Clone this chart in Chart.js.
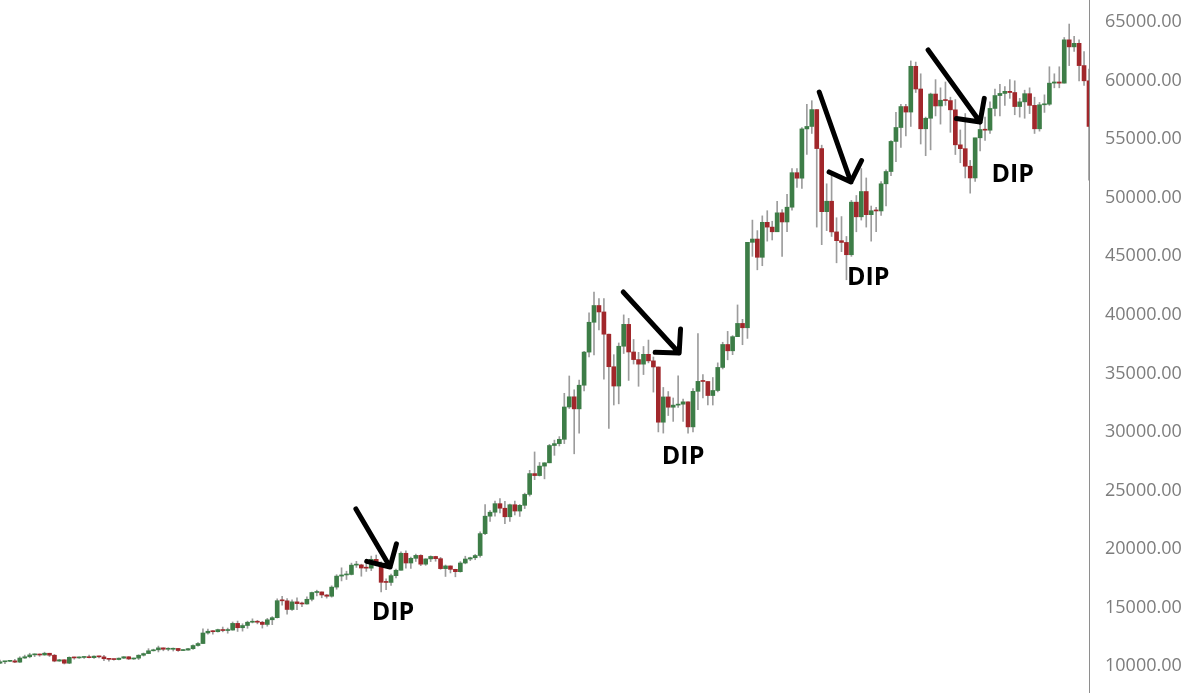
<!DOCTYPE html>
<html>
<head>
<meta charset="utf-8">
<script src="https://cdn.jsdelivr.net/npm/chart.js"></script>
<style>
  body { margin: 0; background: #fff; }
  canvas { display: block; }
</style>
</head>
<body>
<canvas id="chart" width="1200" height="693"></canvas>
<script>
// daily candles, 10 Sep 2020 -> 18 Apr 2021
const dates = [
  '2020-09-10','2020-09-11','2020-09-12','2020-09-13','2020-09-14','2020-09-15','2020-09-16','2020-09-17','2020-09-18','2020-09-19','2020-09-20',
  '2020-09-21','2020-09-22','2020-09-23','2020-09-24','2020-09-25','2020-09-26','2020-09-27','2020-09-28','2020-09-29','2020-09-30',
  '2020-10-01','2020-10-02','2020-10-03','2020-10-04','2020-10-05','2020-10-06','2020-10-07','2020-10-08','2020-10-09','2020-10-10',
  '2020-10-11','2020-10-12','2020-10-13','2020-10-14','2020-10-15','2020-10-16','2020-10-17','2020-10-18','2020-10-19','2020-10-20',
  '2020-10-21','2020-10-22','2020-10-23','2020-10-24','2020-10-25','2020-10-26','2020-10-27','2020-10-28','2020-10-29','2020-10-30','2020-10-31',
  '2020-11-01','2020-11-02','2020-11-03','2020-11-04','2020-11-05','2020-11-06','2020-11-07','2020-11-08','2020-11-09','2020-11-10',
  '2020-11-11','2020-11-12','2020-11-13','2020-11-14','2020-11-15','2020-11-16','2020-11-17','2020-11-18','2020-11-19','2020-11-20',
  '2020-11-21','2020-11-22','2020-11-23','2020-11-24','2020-11-25','2020-11-26','2020-11-27','2020-11-28','2020-11-29','2020-11-30',
  '2020-12-01','2020-12-02','2020-12-03','2020-12-04','2020-12-05','2020-12-06','2020-12-07','2020-12-08','2020-12-09','2020-12-10',
  '2020-12-11','2020-12-12','2020-12-13','2020-12-14','2020-12-15','2020-12-16','2020-12-17','2020-12-18','2020-12-19','2020-12-20',
  '2020-12-21','2020-12-22','2020-12-23','2020-12-24','2020-12-25','2020-12-26','2020-12-27','2020-12-28','2020-12-29','2020-12-30','2020-12-31',
  '2021-01-01','2021-01-02','2021-01-03','2021-01-04','2021-01-05','2021-01-06','2021-01-07','2021-01-08','2021-01-09','2021-01-10',
  '2021-01-11','2021-01-12','2021-01-13','2021-01-14','2021-01-15','2021-01-16','2021-01-17','2021-01-18','2021-01-19','2021-01-20',
  '2021-01-21','2021-01-22','2021-01-23','2021-01-24','2021-01-25','2021-01-26','2021-01-27','2021-01-28','2021-01-29','2021-01-30','2021-01-31',
  '2021-02-01','2021-02-02','2021-02-03','2021-02-04','2021-02-05','2021-02-06','2021-02-07','2021-02-08','2021-02-09','2021-02-10',
  '2021-02-11','2021-02-12','2021-02-13','2021-02-14','2021-02-15','2021-02-16','2021-02-17','2021-02-18','2021-02-19','2021-02-20',
  '2021-02-21','2021-02-22','2021-02-23','2021-02-24','2021-02-25','2021-02-26','2021-02-27','2021-02-28',
  '2021-03-01','2021-03-02','2021-03-03','2021-03-04','2021-03-05','2021-03-06','2021-03-07','2021-03-08','2021-03-09','2021-03-10',
  '2021-03-11','2021-03-12','2021-03-13','2021-03-14','2021-03-15','2021-03-16','2021-03-17','2021-03-18','2021-03-19','2021-03-20',
  '2021-03-21','2021-03-22','2021-03-23','2021-03-24','2021-03-25','2021-03-26','2021-03-27','2021-03-28','2021-03-29','2021-03-30','2021-03-31',
  '2021-04-01','2021-04-02','2021-04-03','2021-04-04','2021-04-05','2021-04-06','2021-04-07','2021-04-08','2021-04-09','2021-04-10',
  '2021-04-11','2021-04-12','2021-04-13','2021-04-14','2021-04-15','2021-04-16','2021-04-17','2021-04-18'
];

const open = [
  10240,10360,10400,10440,10330,10680,10790,10950,10950,10940,11090,10920,10420,10530,10240,10740,10690,10730,10770,10710,10840,
  10780,10620,10570,10550,10670,10790,10600,10670,10920,11060,11300,11380,11550,11430,11430,11500,11320,11360,11480,11750,11920,12820,12970,12930,13110,13030,13070,13640,13270,13460,13740,
  13780,13740,13550,13950,14130,15580,15570,14830,15480,15330,15300,15700,16280,16330,16070,15960,16740,17680,17780,17820,18620,18640,18370,18360,19110,18730,17150,17140,17720,18180,
  19630,18800,19200,19450,18700,19150,19360,19170,18320,18550,18260,18060,18800,19140,19250,19440,21310,22800,23140,23870,23480,22750,23780,23240,23730,24660,26440,26270,27080,27360,28840,
  29000,29370,32130,33000,31970,33990,36820,39370,40800,40250,38350,35570,33920,37320,39190,36830,36180,35790,36630,36070,35550,30830,32990,32110,32290,32370,32570,30430,33470,34320,34310,
  33110,33540,35510,37470,36930,38140,39270,38900,46200,46480,44920,47910,47500,47100,48720,47940,49200,52150,51680,55890,56100,57540,54210,48820,49710,47090,46340,46190,
  45140,49630,48380,50540,48560,48900,48880,51200,52250,54820,56010,57800,57330,61240,59300,55900,56800,58870,57850,58340,58310,57520,54530,54200,52700,51700,55130,55840,55780,57640,58740,
  58920,59100,59000,57800,58200,58900,57900,55900,57950,58000,59800,59900,59800,63500,62900,63200,61300,60000
];

const high = [
  10500,10400,10480,10580,10790,10930,11090,11040,11030,11180,11090,10990,10560,10540,10780,10760,10780,10800,10940,10860,10840,
  10920,10660,10600,10690,10800,10800,10680,10960,11110,11480,11440,11700,11550,11560,11540,11500,11400,11500,11800,12000,13180,13160,13020,13150,13330,13240,13760,13840,13610,13830,14030,
  13900,13820,14070,14220,15740,15960,15770,15650,15830,15460,15900,16320,16480,16330,16110,16850,17800,18390,18100,18790,18940,18700,18760,19390,19480,18900,17450,17850,18280,19750,
  19850,19300,19560,19510,19160,19410,19380,19280,18630,18560,18270,18920,19380,19300,19530,21460,23800,23270,24100,24300,24060,23840,24090,23800,24770,26720,28290,27390,27370,28940,29300,
  29600,33300,34780,33600,34440,36880,40180,41950,41400,41400,38350,36600,37600,40000,39700,37900,36800,37300,37850,36400,35550,33800,33450,32900,34800,32800,32570,33700,38400,34900,34310,
  34650,35900,37660,38590,38230,40850,39620,46200,48100,47200,48460,48900,48000,49700,49000,50300,52500,52500,56000,58000,58300,57540,54500,51200,52000,48300,48400,46700,
  49780,50200,52500,51700,49300,49200,51400,52400,54900,57300,58000,58000,61700,61600,60600,56900,58950,60100,59400,59900,58600,58400,55800,57200,53200,55100,56600,56900,58200,59300,59700,
  59500,60100,60000,58500,59200,59400,58600,58150,58800,61200,60600,61200,63700,64850,63800,63500,62500,61000
];

const low = [
  10200,10200,10360,10280,10300,10650,10700,10800,10830,10920,10810,10360,10400,10170,10200,10580,10650,10640,10680,10650,10700,
  10450,10420,10500,10520,10640,10550,10560,10550,10850,11050,11280,11200,11300,11300,11280,11250,11310,11350,11420,11700,11900,12730,12720,12900,12920,12800,13060,12950,12980,13220,13680,
  13600,13240,13400,13530,14100,15190,14420,14740,14820,15070,15290,15570,15990,15830,15800,15880,16560,17270,17390,17780,18420,17670,18080,18150,18560,16330,16520,16880,17530,18180,
  18350,18340,18930,18570,18600,18920,18950,18260,17650,17950,17620,18020,18730,19000,19080,19300,21230,22350,22800,23080,22160,22350,22900,22780,23450,24520,25920,26230,25990,27360,28000,
  28800,29000,32000,28130,29900,33510,36400,36570,38720,34500,30300,32300,32400,36700,34400,35800,33900,34900,35900,33400,30000,29900,31400,30900,32100,30900,29900,30000,31900,32900,32300,
  32300,33420,35380,36160,36600,38140,37450,37990,45000,43850,44200,46300,46400,47100,45000,47100,48950,50900,50800,53700,55500,47500,46000,47200,46700,44450,45400,43000,
  45000,47100,48100,47500,46300,47100,48500,49300,51900,53100,54300,55300,56100,59000,54600,53600,54100,57000,56300,57900,55600,53700,53000,51700,50400,51400,54000,54900,55500,57000,57000,
  57900,58500,57100,56900,56800,57200,55500,55700,57300,57900,59400,59400,59800,61300,62500,60000,59600,51500
];

const close = [
  10360,10400,10440,10330,10680,10790,10950,10950,10940,11090,10920,10420,10530,10240,10740,10690,10730,10770,10710,10840,10780,
  10620,10570,10550,10670,10790,10600,10670,10920,11060,11300,11380,11550,11430,11430,11500,11320,11360,11480,11750,11920,12820,12970,12930,13110,13030,13070,13640,13270,13460,13740,13780,
  13740,13550,13950,14130,15580,15570,14830,15480,15330,15300,15700,16280,16330,16070,15960,16740,17680,17780,17820,18620,18640,18370,18360,19110,18730,17150,17140,17720,18180,19630,
  18800,19200,19450,18700,19150,19360,19170,18320,18550,18260,18060,18800,19140,19250,19440,21310,22800,23140,23870,23480,22750,23780,23240,23730,24660,26440,26270,27080,27360,28840,29000,
  29370,32130,33000,31970,33990,36820,39370,40800,40250,38350,35570,33920,37320,39190,36830,36180,35790,36630,36070,35550,30830,32990,32110,32290,32370,32570,30430,33470,34320,34310,33110,
  33540,35510,37470,36930,38140,39270,38900,46200,46480,44920,47910,47500,47100,48720,47940,49200,52150,51680,55890,56100,57540,54210,48820,49710,47090,46340,46190,45140,
  49630,48380,50540,48560,48900,48880,51200,52250,54820,56010,57800,57330,61240,59300,55900,56800,58870,57850,58340,58310,57520,54530,54200,52700,51700,55130,55840,55780,57640,58740,58920,
  59100,59000,57800,58200,58900,57900,55900,57950,58000,59800,59900,59800,63500,62900,63200,61300,60000,56100
];

const yTicks = [10000, 15000, 20000, 25000, 30000, 35000, 40000, 45000, 50000, 55000, 60000, 65000];

// hand-drawn annotations, placed in data space: [candle index, price]
const arrows = [
  { from: [71.9, 23415], to: [78.8, 18460] },
  { from: [125.9, 41956], to: [137.2, 36744] },
  { from: [165.5, 59044], to: [171.9, 51354] },
  { from: [187.5, 62632], to: [198.0, 56480] }
];
const dipLabels = [[79.4, 14700], [138.0, 28029], [175.4, 43323], [204.6, 52123]];

const UP = '#3d7d47';
const DOWN = '#a1272b';

const bodyColors = open.map((o, i) => close[i] >= o ? UP : DOWN);

const dipPlugin = {
  id: 'dips',
  afterDatasetsDraw(chart) {
    const { ctx, scales: { x, y } } = chart;
    ctx.save();
    ctx.strokeStyle = '#000';
    ctx.lineWidth = 5;
    ctx.lineCap = 'round';
    ctx.lineJoin = 'round';
    arrows.forEach(a => {
      const x0 = x.getPixelForValue(a.from[0]), y0 = y.getPixelForValue(a.from[1]);
      const x1 = x.getPixelForValue(a.to[0]), y1 = y.getPixelForValue(a.to[1]);
      const back = Math.atan2(y0 - y1, x0 - x1);
      ctx.beginPath();
      ctx.moveTo(x0, y0);
      ctx.lineTo(x1, y1);
      [-0.8, 0.8].forEach(d => {
        ctx.moveTo(x1 + 24 * Math.cos(back + d), y1 + 24 * Math.sin(back + d));
        ctx.lineTo(x1, y1);
      });
      ctx.stroke();
    });
    ctx.fillStyle = '#000';
    ctx.font = 'bold 25px "Open Sans"';
    ctx.textAlign = 'center';
    ctx.textBaseline = 'alphabetic';
    dipLabels.forEach(p => {
      ctx.fillText('DIP', x.getPixelForValue(p[0]), y.getPixelForValue(p[1]) + 9);
    });
    ctx.restore();
  }
};

new Chart(document.getElementById('chart'), {
  type: 'bar',
  data: {
    labels: dates,
    datasets: [
      {
        label: 'body',
        data: dates.map((d, i) => [open[i], close[i]]),
        backgroundColor: bodyColors,
        barThickness: 4,
        minBarLength: 1,
        grouped: false,
        order: 0
      },
      {
        label: 'wick',
        data: dates.map((d, i) => [low[i], high[i]]),
        backgroundColor: '#9c9c9c',
        barThickness: 1,
        grouped: false,
        order: 1
      }
    ]
  },
  options: {
    responsive: false,
    animation: false,
    layout: { padding: 0 },
    plugins: {
      legend: { display: false },
      tooltip: { enabled: false }
    },
    scales: {
      x: { display: false, offset: false },
      y: {
        position: 'right',
        min: 7693,
        max: 66904,
        afterBuildTicks: s => { s.ticks = yTicks.map(v => ({ value: v })); },
        afterFit: s => { s.paddingTop = 0; s.paddingBottom = 0; s.width = 111; },
        grid: { display: false },
        border: { display: true, color: '#8e8e8e', width: 1 },
        ticks: {
          padding: 8,
          color: '#7d7d7d',
          font: { family: 'Open Sans', size: 18 },
          callback: v => v.toFixed(2)
        }
      }
    }
  },
  plugins: [dipPlugin]
});
</script>
</body>
</html>
